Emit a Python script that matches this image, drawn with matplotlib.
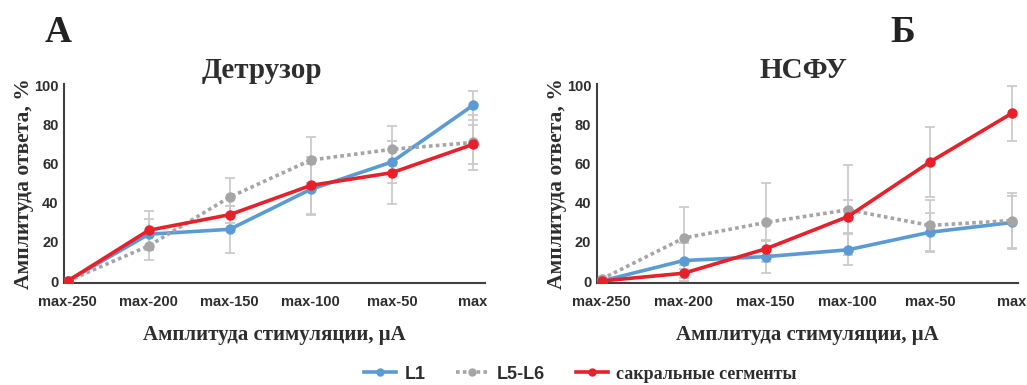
import matplotlib
matplotlib.use("Agg")
import matplotlib.pyplot as plt
from matplotlib.lines import Line2D

categories = ["max-250", "max-200", "max-150", "max-100", "max-50", "max"]
yticks = [0, 20, 40, 60, 80, 100]

# Детрузор
det_l1 = [0, 24, 26.5, 47, 61, 90]
det_l1_err = [0, 8, 12, 13, 11, 7.5]
det_l56 = [0, 18, 43, 62, 67.5, 71]
det_l56_err = [0, 7, 10, 12, 12, 14]
det_sac = [0, 26, 34, 49, 55.5, 70]
det_sac_err = [0, 10, 4.5, 14.5, 16, 10]

# НСФУ
nsf_l1 = [0, 10.5, 12.5, 16, 25, 30]
nsf_l1_err = [0, 9, 8.5, 8, 10, 13.5]
nsf_l56 = [1, 22, 30, 36.5, 28.5, 31]
nsf_l56_err = [0, 16, 20, 23, 13, 14]
nsf_sac = [0, 4, 16.5, 33, 61, 86]
nsf_sac_err = [0, 4, 4, 8.5, 18, 14]

C_L1 = "#5B9BD5"
C_L56 = "#A5A5A5"
C_SAC = "#E8202A"
C_ERR = "#CBCBCB"
C_TXT = "#2E2E2E"

SANS = "Liberation Sans"
SERIF = "Liberation Serif"

fig = plt.figure(figsize=(10.27, 3.85), dpi=100)
fig.patch.set_facecolor("white")


def panel(rect, title, xlim, series, title_x=0.5):
    ax = fig.add_axes(rect)
    x = list(range(len(categories)))
    for vals, err, color, ls in series:
        ax.errorbar(x, vals, yerr=err, fmt="none", ecolor=C_ERR, elinewidth=1.3,
                    capsize=3.5, capthick=1.3, zorder=1)
    for vals, err, color, ls in series:
        ax.plot(x, vals, color=color, lw=2.6, linestyle=ls, marker="o",
                markersize=6.5, zorder=3, dash_capstyle="butt")
    ax.set_xlim(*xlim)
    ax.set_ylim(-1, 101)
    ax.set_xticks(x)
    ax.set_xticklabels(categories, fontfamily=SANS, fontweight="bold",
                       fontsize=10.5, color=C_TXT)
    ax.set_yticks(yticks)
    ax.set_yticklabels([str(v) for v in yticks], fontfamily=SANS,
                       fontweight="bold", fontsize=10.5, color=C_TXT)
    ax.tick_params(length=0, pad=4)
    ax.tick_params(axis="x", pad=9)
    for s in ("top", "right"):
        ax.spines[s].set_visible(False)
    for s in ("left", "bottom"):
        ax.spines[s].set_color("#404040")
        ax.spines[s].set_linewidth(1.5)
    ax.set_ylabel("Амплитуда ответа, %", fontfamily=SERIF, fontweight="bold",
                  fontsize=15.5, color=C_TXT, labelpad=0)
    ax.set_xlabel("Амплитуда стимуляции, μA", fontfamily=SERIF,
                  fontweight="bold", fontsize=15, color=C_TXT, labelpad=11)
    ax.set_title(title, fontfamily=SERIF, fontweight="bold", fontsize=21,
                 color=C_TXT, pad=0, x=title_x)
    return ax


dotted = (0, (1, 0.9))
panel([0.0623, 0.265, 0.41, 0.517], "Детрузор", (-0.045, 5.15),
      [(det_l1, det_l1_err, C_L1, "-"),
       (det_l56, det_l56_err, C_L56, dotted),
       (det_sac, det_sac_err, C_SAC, "-")], title_x=0.47)
panel([0.581, 0.265, 0.41, 0.517], "НСФУ", (-0.06, 5.07),
      [(nsf_l1, nsf_l1_err, C_L1, "-"),
       (nsf_l56, nsf_l56_err, C_L56, dotted),
       (nsf_sac, nsf_sac_err, C_SAC, "-")], title_x=0.49)

fig.text(0.057, 0.915, "А", fontfamily=SERIF, fontweight="bold", fontsize=27,
         color="#222222", ha="center", va="center")
fig.text(0.879, 0.915, "Б", fontfamily=SERIF, fontweight="bold", fontsize=27,
         color="#222222", ha="center", va="center")

handles = [
    Line2D([], [], color=C_L1, lw=2.6, marker="o", markersize=5),
    Line2D([], [], color=C_L56, lw=2.6, linestyle=dotted, marker="o", markersize=5),
    Line2D([], [], color=C_SAC, lw=2.6, marker="o", markersize=5),
]
leg = fig.legend(handles, ["L1", "L5-L6", "сакральные сегменты"],
                 loc="center", bbox_to_anchor=(0.565, 0.028), ncol=3,
                 frameon=False, handlelength=1.8, handletextpad=0.45,
                 columnspacing=1.7, fontsize=13)
for i, t in enumerate(leg.get_texts()):
    t.set_color(C_TXT)
    t.set_fontweight("bold")
    t.set_fontfamily(SANS if i < 2 else SERIF)

fig.savefig("out.png", dpi=100, facecolor="white")
